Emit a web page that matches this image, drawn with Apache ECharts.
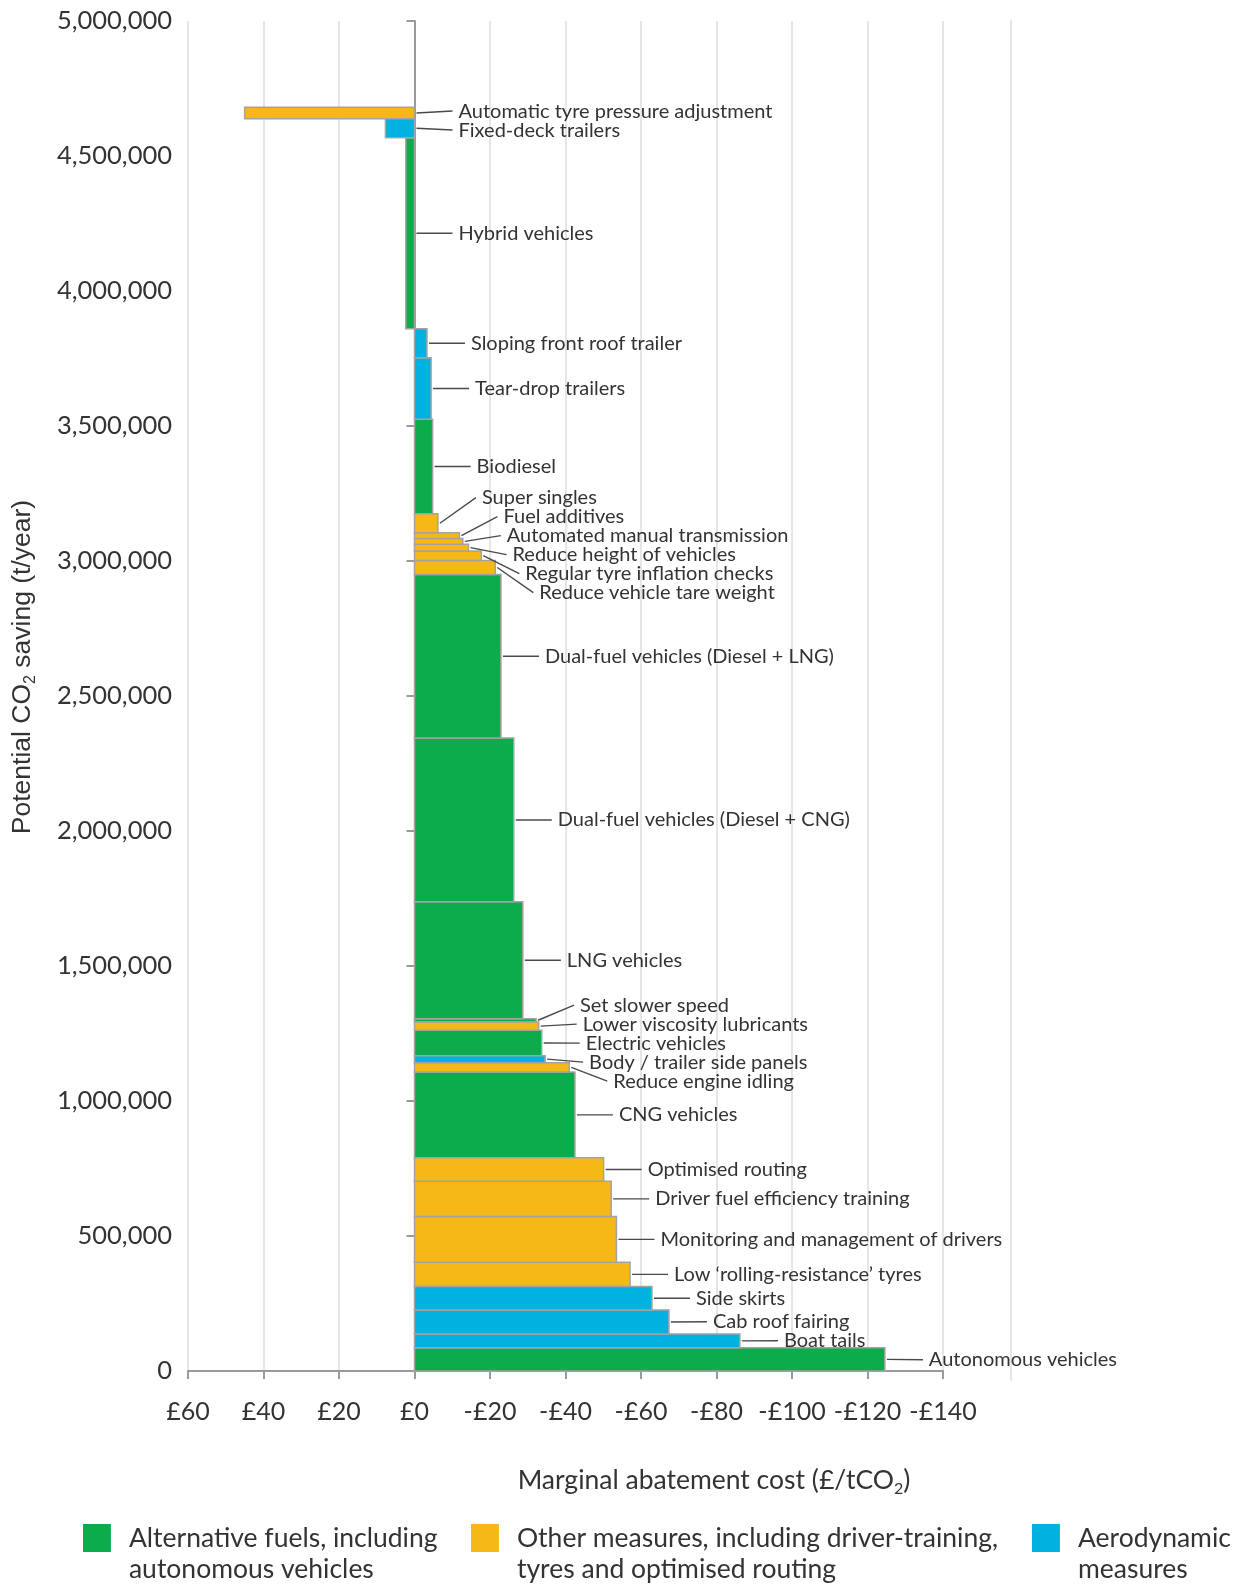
<!DOCTYPE html>
<html><head><meta charset="utf-8">
<script src="https://cdn.jsdelivr.net/npm/echarts@6/dist/echarts.min.js"></script>
<style>html,body{margin:0;padding:0;background:#fff}#c{width:1240px;height:1585px}</style>
</head><body><div id="c"></div>
<script>
// Measures, bottom (cheapest) to top
const measures = ['Autonomous vehicles','Boat tails','Cab roof fairing','Side skirts',"Low \u2018rolling-resistance\u2019 tyres",'Monitoring and management of drivers','Driver fuel efficiency training','Optimised routing','CNG vehicles','Reduce engine idling','Body / trailer side panels','Electric vehicles','Lower viscosity lubricants','Set slower speed','LNG vehicles','Dual-fuel vehicles (Diesel + CNG)','Dual-fuel vehicles (Diesel + LNG)','Reduce vehicle tare weight','Regular tyre inflation checks','Reduce height of vehicles','Automated manual transmission','Fuel additives','Super singles','Biodiesel','Tear-drop trailers','Sloping front roof trailer','Hybrid vehicles','Fixed-deck trailers','Automatic tyre pressure adjustment'];
// Potential CO2 saving of each measure (t/year)
const savings = [86000,51000,89000,87000,90000,169000,131000,87000,317000,35000,26000,94000,31000,12000,433000,606000,606000,52000,35000,25000,21000,22000,70000,350000,228000,107000,708000,70000,43000];
// Marginal abatement cost (£/tCO2)
const costs = [-124.6,-86.2,-67.4,-62.9,-57.1,-53.5,-52.1,-50.1,-42.5,-41.0,-34.6,-33.7,-32.9,-32.2,-28.7,-26.3,-22.9,-21.4,-17.7,-14.3,-12.8,-11.9,-6.2,-4.8,-4.4,-3.3,2.3,7.7,45.0];
// 0 = alternative fuels, 1 = other measures, 2 = aerodynamic
const groups = [0,2,2,2,1,1,1,1,0,1,2,0,1,0,0,0,0,1,1,1,1,1,1,0,2,2,0,2,1];
const groupNames = ['Alternative fuels, including autonomous vehicles','Other measures, including driver-training, tyres and optimised routing','Aerodynamic measures'];
const legendLines = ['Alternative fuels, including\nautonomous vehicles','Other measures, including driver-training,\ntyres and optimised routing','Aerodynamic\nmeasures'];
const groupColors = ['#0cab4b','#f6b817','#00b2de'];

const starts = [], ends = [];
let acc = 0;
savings.forEach(s => { starts.push(acc); acc += s; ends.push(acc); });

function layout(api) {
  const items = measures.map((m, i) => {
    const pA = api.coord([0, starts[i]]), pB = api.coord([costs[i], ends[i]]);
    return { i, xl: Math.min(pA[0], pB[0]), xr: Math.max(pA[0], pB[0]), yt: pB[1], yb: pA[1], mid: (pA[1] + pB[1]) / 2 };
  });
  const order = items.slice().sort((a, b) => a.mid - b.mid);
  const G = 19;
  const clusters = [];
  order.forEach(it => {
    clusters.push({ m: [it], top: it.mid });
    while (clusters.length > 1) {
      const c = clusters[clusters.length - 1], p = clusters[clusters.length - 2];
      if (p.top + p.m.length * G > c.top) {
        const m = p.m.concat(c.m);
        const mean = m.reduce((s, x) => s + x.mid, 0) / m.length;
        clusters.splice(-2, 2, { m, top: mean - (m.length - 1) * G / 2 });
      } else break;
    }
  });
  clusters.forEach(c => c.m.forEach((it, k) => { it.ly = c.top + k * G; }));
  return items;
}

function renderItem(params, api) {
  const idx = api.value(3);
  const L = layout(api)[idx];
  const tx = L.xr + 44;
  return { type: 'group', children: [
    { type: 'rect', shape: { x: L.xl, y: L.yt, width: L.xr - L.xl, height: L.yb - L.yt },
      style: { fill: api.visual('color'), stroke: '#a3a3a3', lineWidth: 1.5 } },
    { type: 'line', shape: { x1: L.xr + 2, y1: L.mid, x2: tx - 6, y2: L.ly },
      style: { stroke: '#4a4a4a', lineWidth: 1.4 } },
    { type: 'text', x: tx, y: L.ly,
      style: { text: measures[idx], fill: '#333', font: '20px Lato', textAlign: 'left', textVerticalAlign: 'middle', align: 'left', verticalAlign: 'middle' } }
  ]};
}

const fmtCost = v => v === 0 ? '\u00a30' : (v > 0 ? '\u00a3' + v : '-\u00a3' + (-v));
const fmtNum = v => String(v).replace(/\B(?=(\d{3})+(?!\d))/g, ',');
const legendIcon = 'path://M0,0L28,0L28,28L0,28Z M0,60L0.2,60L0.2,60.2Z';

const chart = echarts.init(document.getElementById('c'), null, { renderer: 'canvas' });
chart.setOption({
  animation: false,
  textStyle: { fontFamily: 'Lato' },
  grid: [
    { left: 188, top: 21, width: 755, height: 1350 },
    { left: 188, top: 21, width: 823, height: 1359 }
  ],
  xAxis: [
    { type: 'value', gridIndex: 0, min: -140, max: 60, interval: 20, inverse: true,
      axisLine: { show: true, onZero: false, lineStyle: { color: '#9a9a9a', width: 2 } },
      axisTick: { show: true, length: 8, lineStyle: { color: '#9a9a9a', width: 2 } },
      axisLabel: { formatter: fmtCost, fontSize: 25, color: '#333', margin: 28, fontFamily: 'Lato' },
      splitLine: { show: true, lineStyle: { color: '#e6e6e6', width: 2 } } },
    { type: 'value', gridIndex: 1, min: 0, max: 1, show: false }
  ],
  yAxis: [
    { type: 'value', gridIndex: 0, min: 0, max: 5000000, interval: 500000,
      axisLine: { show: true, onZero: true, lineStyle: { color: '#9a9a9a', width: 2 } },
      axisTick: { show: true, length: 8, lineStyle: { color: '#9a9a9a', width: 2 } },
      axisLabel: { show: false }, splitLine: { show: false } },
    { type: 'value', gridIndex: 0, min: 0, max: 5000000, interval: 500000, position: 'left',
      axisLine: { show: false, onZero: false }, axisTick: { show: false },
      axisLabel: { formatter: fmtNum, fontSize: 25.5, color: '#333', margin: 16, fontFamily: 'Lato' },
      splitLine: { show: false } },
    { type: 'value', gridIndex: 1, min: 0, max: 1, position: 'right',
      axisLine: { show: true, onZero: false, lineStyle: { color: '#e6e6e6', width: 2 } },
      axisTick: { show: false }, axisLabel: { show: false }, splitLine: { show: false } }
  ],
  legend: [0, 1, 2].map(g => ({
    data: [groupNames[g]], left: [83, 471, 1032][g], top: 1523, orient: 'horizontal', padding: 0,
    icon: legendIcon, itemWidth: 28, itemHeight: 60, selectedMode: false,
    formatter: name => legendLines[groupNames.indexOf(name)],
    textStyle: { fontSize: 26.5, lineHeight: 31, color: '#333', fontFamily: 'Lato', padding: [0, 0, 0, 13] }
  })),
  graphic: [
    { type: 'text', x: 23, y: 667, rotation: Math.PI / 2,
      style: { text: '{a|Potential CO}{s|2}{a| saving (t/year)}',
        rich: { a: { fontSize: 26.5, fontFamily: 'Liberation Sans', fill: '#333', color: '#333', lineHeight: 32 },
                s: { fontSize: 16, fontFamily: 'Liberation Sans', fill: '#333', color: '#333', lineHeight: 17, verticalAlign: 'bottom' } },
        align: 'center', verticalAlign: 'middle', textAlign: 'center', textVerticalAlign: 'middle' } },
    { type: 'text', x: 714, y: 1480,
      style: { text: '{a|Marginal abatement cost (\u00a3/tCO}{s|2}{a|)}',
        rich: { a: { fontSize: 26.5, fontFamily: 'Lato', fill: '#333', color: '#333', lineHeight: 33 },
                s: { fontSize: 16, fontFamily: 'Lato', fill: '#333', color: '#333', lineHeight: 17, verticalAlign: 'bottom' } },
        align: 'center', verticalAlign: 'middle', textAlign: 'center', textVerticalAlign: 'middle' } }
  ],
  series: [0, 1, 2].map(g => ({
    type: 'custom', name: groupNames[g], coordinateSystem: 'cartesian2d', xAxisIndex: 0, yAxisIndex: 0,
    itemStyle: { color: groupColors[g] }, renderItem, silent: true, clip: false,
    encode: { x: 2, y: [0, 1] },
    data: measures.map((m, i) => i).filter(i => groups[i] === g).map(i => [starts[i], ends[i], costs[i], i])
  }))
});
</script></body></html>
